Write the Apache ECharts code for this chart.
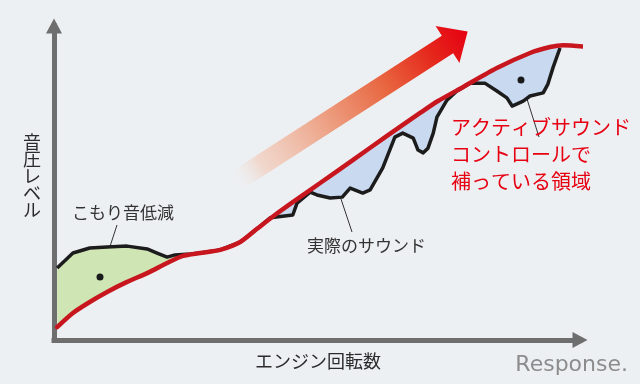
<!DOCTYPE html>
<html><head><meta charset="utf-8">
<script src="https://cdn.jsdelivr.net/npm/echarts@6/dist/echarts.min.js"></script>
<style>html,body{margin:0;padding:0;background:#edf0f3;}#c{width:640px;height:384px;}</style>
</head><body><div id="c"></div>
<script>
// Target (ideal) sound level curve: [engine speed %, sound pressure %]
const targetSound = [
  [0.6,4.1],[3.6,8.6],[6.8,12.1],[10.1,15.3],[13.9,18.5],[17.7,21.3],[21.5,24.5],
  [24.5,26.8],[27.8,27.7],[31.6,28.7],[35.4,31.2],[38.6,35.4],[42.0,39.8],[45.4,43.9],
  [50.6,50.0],[56.8,57.3],[63.3,65.0],[69.6,72.3],[73.0,76.1],[77.8,80.6],[84.2,86.6],
  [90.5,91.4],[94.3,93.3],[96.8,93.9],[101.9,93.3]
];
// Actual sound level curve
const actualSound = [
  [0.6,22.9],[3.6,27.7],[6.8,29.3],[10.1,29.6],[13.9,29.9],[17.7,29.0],[19.6,27.7],
  [21.5,26.4],[23.0,27.1],[25.9,27.4],[27.8,27.7],[31.6,28.7],[35.4,31.2],[38.6,35.4],
  [41.1,38.9],[45.4,39.8],[46.2,43.6],[48.7,47.1],[50.0,46.2],[52.5,45.2],[54.8,45.5],
  [56.3,48.4],[58.7,46.8],[60.1,47.8],[62.5,54.8],[64.8,64.6],[66.3,65.9],[68.3,64.3],
  [69.2,60.5],[70.2,59.6],[71.1,61.1],[72.1,65.9],[72.8,71.0],[74.7,76.4],[76.6,79.3],
  [79.1,81.8],[81.9,81.8],[84.2,79.3],[86.1,77.1],[87.1,74.5],[89.2,76.1],[90.5,77.7],
  [93.0,78.7],[93.9,81.5],[94.9,86.9],[96.2,93.0]
];
const muffledRange = [0, 26];     // actual above target (reduced)
const compensatedRange = [41, 96.3]; // actual below target (compensated)
const xAxisTitle = 'エンジン回転数';
const yAxisTitle = '音圧レベル';
const muffledLabel = 'こもり音低減';
const actualLabel = '実際のサウンド';
const ascLabel = ['アクティブサウンド', 'コントロールで', '補っている領域'];
const logoText = 'Response.';

const JP = '"Noto Sans CJK JP", "Noto Sans", sans-serif';
const chart = echarts.init(document.getElementById('c'), null, {renderer: 'canvas'});

function band(api, upper, lower, r) {
  const top = upper.filter(p => p[0] >= r[0] && p[0] <= r[1]);
  const bot = lower.filter(p => p[0] >= r[0] && p[0] <= r[1]).reverse();
  return top.concat(bot).map(p => api.coord(p));
}

// gradient arrow geometry (decoration)
const T = [233, 183], B = [447.5, 44.5];
const dx = B[0] - T[0], dy = B[1] - T[1], L = Math.hypot(dx, dy);
const u = [dx / L, dy / L], n = [-u[1], u[0]];
const w = 10.5, hw = 22, hl = 24;
const P = (c, a, b) => [c[0] + u[0] * a + n[0] * b, c[1] + u[1] * a + n[1] * b];
const tip = P(B, hl, 0);
const arrowPts = [P(T,0,-w), P(B,0,-w), P(B,0,-hw), tip, P(B,0,hw), P(B,0,w), P(T,0,w)];

const axisLineStyle = {color: '#6e6e6e', width: 5, cap: 'square'};

chart.setOption({
  backgroundColor: '#edf0f3',
  animation: false,
  grid: {left: 54, top: 26, right: 60, bottom: 44},
  xAxis: {type: 'value', min: 0, max: 100, axisLine: {show: true, symbol: ['none', 'triangle'], symbolSize: [16, 15], lineStyle: axisLineStyle},
    axisTick: {show: false}, axisLabel: {show: false}, splitLine: {show: false}},
  yAxis: {type: 'value', min: 0, max: 100, axisLine: {show: true, symbol: ['none', 'triangle'], symbolSize: [16, 15], lineStyle: axisLineStyle},
    axisTick: {show: false}, axisLabel: {show: false}, splitLine: {show: false}},
  series: [
    {type: 'custom', z: 1, data: [0], renderItem: (params, api) => ({
      type: 'group', children: [
        {type: 'polygon', shape: {points: band(api, actualSound, targetSound, muffledRange)}, style: {fill: '#cfe5b3'}},
        {type: 'polygon', shape: {points: band(api, targetSound, actualSound, compensatedRange)}, style: {fill: '#c9d9ef'}}
      ]})},
    {type: 'line', z: 3, data: actualSound, symbol: 'none', clip: false,
      lineStyle: {color: '#1c1c1c', width: 3.5, join: 'round'}},
    {type: 'line', z: 4, data: targetSound, symbol: 'none', smooth: 0.25, clip: false,
      lineStyle: {color: '#c8161e', width: 4.5, cap: 'round'}}
  ],
  graphic: [
    {type: 'polygon', z: 0, shape: {points: arrowPts}, style: {fill: {type: 'linear', x: T[0], y: T[1], x2: tip[0], y2: tip[1], global: true,
      colorStops: [
        {offset: 0, color: 'rgba(237,240,243,0)'},
        {offset: 0.12, color: 'rgba(242,205,188,0.7)'},
        {offset: 0.4, color: '#eda083'},
        {offset: 0.65, color: '#e8653f'},
        {offset: 0.85, color: '#e5261b'},
        {offset: 1, color: '#e60012'}]}}},
    {type: 'text', style: {text: yAxisTitle.split('').join('\n'), x: 32, y: 176, font: '18px ' + JP, lineHeight: 17, fill: '#2b2b2b', textAlign: 'center', textVerticalAlign: 'middle'}},
    {type: 'text', style: {text: xAxisTitle, x: 318, y: 361, font: '18px ' + JP, fill: '#2b2b2b', textAlign: 'center', textVerticalAlign: 'middle'}},
    {type: 'text', style: {text: muffledLabel, x: 72, y: 213, font: '17px ' + JP, fill: '#333', textVerticalAlign: 'middle'}},
    {type: 'line', shape: {x1: 117, y1: 225, x2: 100, y2: 277}, style: {stroke: '#333', lineWidth: 1}},
    {type: 'circle', z: 10, shape: {cx: 100, cy: 277, r: 3.5}, style: {fill: '#1a1a1a'}},
    {type: 'text', style: {text: actualLabel, x: 307, y: 246, font: '17px ' + JP, fill: '#333', textVerticalAlign: 'middle'}},
    {type: 'line', shape: {x1: 341, y1: 199, x2: 352, y2: 232}, style: {stroke: '#333', lineWidth: 1}},
    {type: 'line', shape: {x1: 521, y1: 80, x2: 539, y2: 137}, style: {stroke: '#333', lineWidth: 1}},
    {type: 'circle', z: 10, shape: {cx: 521, cy: 80, r: 3.5}, style: {fill: '#1a1a1a'}},
    {type: 'text', style: {text: ascLabel.join('\n'), x: 451, y: 154, font: '20px ' + JP, lineHeight: 27, fill: '#e60012', textVerticalAlign: 'middle'}},
    {type: 'text', style: {text: logoText, x: 628, y: 365, font: '22px "DejaVu Sans"', fill: '#8c8c8c', textAlign: 'right', textVerticalAlign: 'middle'}}
  ]
});
</script></body></html>
